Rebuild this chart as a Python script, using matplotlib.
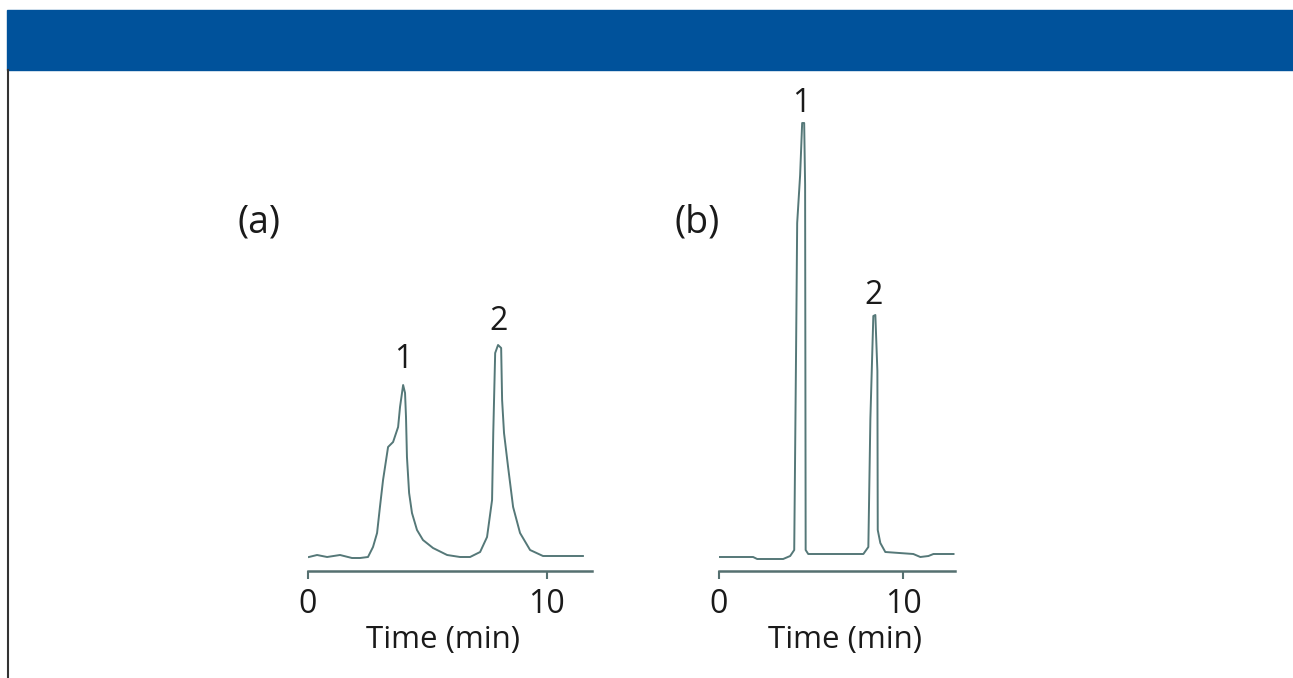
import matplotlib.pyplot as plt
from matplotlib.patches import Rectangle

plt.rcParams['font.family'] = ['Open Sans', 'DejaVu Sans']

# panel (a): time (min), signal (arbitrary units)
tempo_a = [0.06, 0.40, 0.82, 1.36, 1.86, 2.20, 2.53, 2.74, 2.91, 3.03, 3.16, 3.37,
           3.58, 3.79, 3.87, 4.00, 4.08, 4.12, 4.16, 4.25, 4.37, 4.58, 4.83, 5.25,
           5.84, 6.38, 6.80, 7.22, 7.51, 7.72, 7.77, 7.85, 7.97, 8.10, 8.14, 8.22,
           8.39, 8.60, 8.89, 9.31, 9.85, 11.52]
sinal_a = [14, 16, 14, 16, 13, 13, 14, 24, 38, 64, 91, 124,
           129, 144, 164, 186, 178, 154, 114, 78, 58, 41, 31, 23,
           16, 14, 14, 19, 34, 71, 138, 218, 226, 223, 171, 138,
           104, 64, 38, 21, 15, 15]

# panel (b)
tempo_b = [0.0, 1.85, 2.07, 3.48, 3.86, 4.08, 4.18, 4.24, 4.40, 4.51, 4.62, 4.67,
           4.70, 4.84, 7.83, 8.10, 8.21, 8.37, 8.48, 8.59, 8.61, 8.75, 9.02, 10.54,
           10.92, 11.36, 11.63, 12.72]
sinal_b = [14, 14, 12, 12, 15, 21, 220, 348, 396, 448, 448, 386,
           21, 17, 17, 24, 152, 255, 256, 200, 41, 28, 19, 17,
           14, 15, 17, 17]

# peak labels (time, height)
picos_a = [(4.0, 212, "1"), (8.0, 249, "2")]
picos_b = [(4.45, 467, "1"), (8.37, 276, "2")]

W, H = 1293, 678
fig = plt.figure(figsize=(W / 100, H / 100), dpi=100)

# blue header band and left border
fig.patches.append(Rectangle((7 / W, 1 - 70 / H), 1 - 7 / W, 60 / H,
                             transform=fig.transFigure, color="#00529b", zorder=0))
fig.add_artist(plt.Line2D([7.5 / W, 7.5 / W], [0, 1 - 70 / H], transform=fig.transFigure,
                          color="#333333", lw=1.5))

cor_linha = "#557878"
cor_eixo = "#557070"


def painel(px_esq, px_dir, tempo, sinal, xmax, picos, rotulo, px_rot, lbl_x):
    ax = fig.add_axes([px_esq / W, 1 - 571 / H, (px_dir - px_esq) / W, 471 / H])
    ax.plot(tempo, sinal, color=cor_linha, lw=1.4)
    ax.set_xlim(0, xmax)
    ax.set_ylim(0, 471)
    for s in ["top", "right", "left"]:
        ax.spines[s].set_visible(False)
    ax.spines["bottom"].set_color(cor_eixo)
    ax.spines["bottom"].set_linewidth(1.8)
    ax.set_yticks([])
    ax.set_xticks([0, 10])
    ax.tick_params(axis="x", length=6, width=1.5, color=cor_eixo, labelsize=23,
                   pad=6, labelcolor="#1a1a1a")
    ax.set_xlabel("Time (min)", fontsize=22.5, color="#1a1a1a")
    ax.xaxis.set_label_coords(lbl_x, -0.146)
    ax.xaxis.label.set_va("center")
    ax.patch.set_alpha(0)
    for t, h, nome in picos:
        ax.text(t, h, nome, ha="center", va="center", fontsize=23, color="#1a1a1a")
    fig.text(px_rot / W, 1 - 222 / H, rotulo, ha="center", va="center",
             fontsize=27, color="#1a1a1a")
    return ax


painel(307.5, 592, tempo_a, sinal_a, 11.9, picos_a, "(a)", 259, 0.476)
painel(719, 955, tempo_b, sinal_b, 12.8, picos_b, "(b)", 697, 0.534)

fig.savefig("out.png", dpi=100)
